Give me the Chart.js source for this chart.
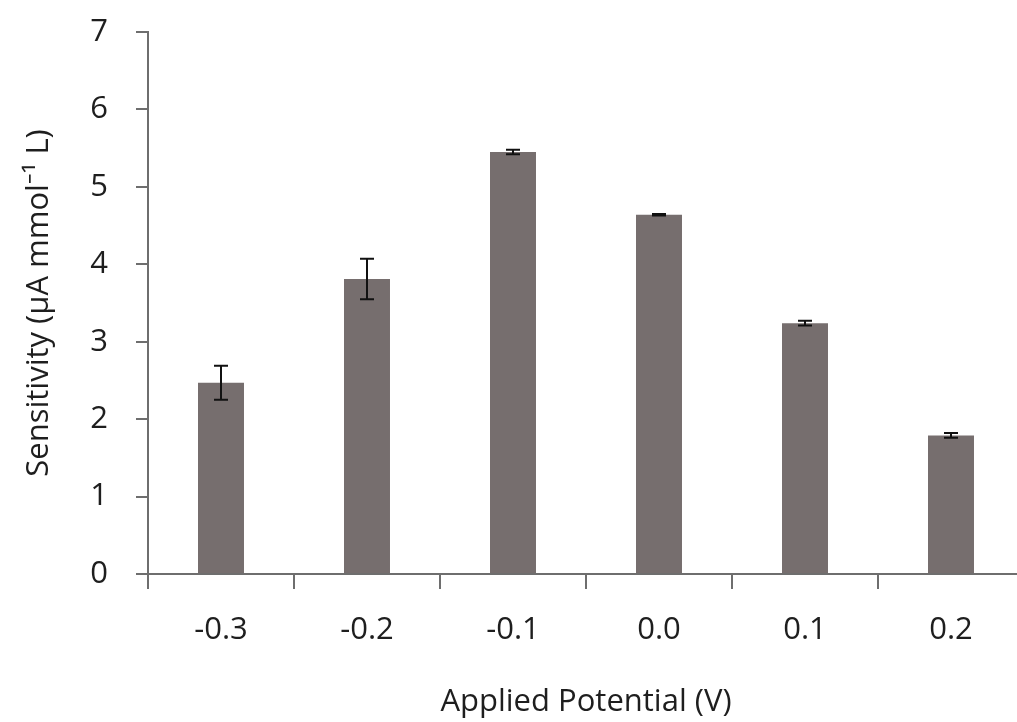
<!DOCTYPE html>
<html>
<head>
<meta charset="utf-8">
<script src="https://cdn.jsdelivr.net/npm/chart.js@4/dist/chart.umd.min.js"></script>
<style>
    html, body { margin: 0; padding: 0; background: #fff; overflow: hidden; }
    #wrap { width: 1040px; height: 722px; }
</style>
</head>
<body>
<div id="wrap"><canvas id="barChart"></canvas></div>
<script>
// Data
const potentials = ['-0.3', '-0.2', '-0.1', '0.0', '0.1', '0.2'];
const sensitivity = [2.47, 3.81, 5.45, 4.64, 3.24, 1.79];
const sensitivityErr = [0.22, 0.26, 0.03, 0.01, 0.03, 0.03];
const yTicks = [0, 1, 2, 3, 4, 5, 6, 7];

const fontFamily = '"Open Sans", "Noto Sans", sans-serif';
const axisColor = '#6e6e6e';
const textColor = '#1e1e1e';

// draws the error bars from the bar elements and y scale
const errorBars = {
    id: 'errorBars',
    afterDatasetsDraw(chart) {
        const ctx = chart.ctx;
        const yScale = chart.scales.y;
        const meta = chart.getDatasetMeta(0);
        ctx.save();
        ctx.strokeStyle = '#111';
        ctx.lineWidth = 2;
        meta.data.forEach((bar, i) => {
            const v = sensitivity[i];
            const e = sensitivityErr[i];
            const yTop = yScale.getPixelForValue(v + e);
            const yBot = yScale.getPixelForValue(v - e);
            const cap = 7;
            ctx.beginPath();
            ctx.moveTo(bar.x, yTop);
            ctx.lineTo(bar.x, yBot);
            ctx.moveTo(bar.x - cap, yTop);
            ctx.lineTo(bar.x + cap, yTop);
            ctx.moveTo(bar.x - cap, yBot);
            ctx.lineTo(bar.x + cap, yBot);
            ctx.stroke();
        });
        ctx.restore();
    }
};

new Chart(document.getElementById('barChart'), {
    type: 'bar',
    data: {
        labels: potentials,
        datasets: [{
            label: 'Sensitivity',
            data: sensitivity,
            backgroundColor: '#766e6e',
            borderWidth: 0,
            barPercentage: 0.63,
            categoryPercentage: 0.5
        }]
    },
    options: {
        responsive: true,
        maintainAspectRatio: false,
        animation: false,
        layout: { padding: { top: 32, right: 16, bottom: 0, left: 0 } },
        plugins: {
            legend: { display: false },
            tooltip: { enabled: false }
        },
        scales: {
            x: {
                grid: {
                    offset: true,
                    drawOnChartArea: false,
                    tickLength: 15,
                    tickColor: axisColor,
                    lineWidth: 2
                },
                border: { color: axisColor, width: 2 },
                ticks: {
                    color: textColor,
                    padding: 23,
                    maxRotation: 0,
                    font: { family: fontFamily, size: 31, weight: 500 }
                },
                title: {
                    display: true,
                    text: 'Applied Potential (V)',
                    color: textColor,
                    padding: { top: 0, bottom: 1 },
                    font: { family: fontFamily, size: 31, weight: 500 }
                },
                afterFit(scale) {
                    scale.height = 148;
                    scale.paddingLeft = 0;
                    scale.paddingRight = 0;
                }
            },
            y: {
                min: 0,
                max: 7,
                afterBuildTicks(scale) {
                    scale.ticks = yTicks.map(v => ({ value: v }));
                },
                grid: {
                    drawOnChartArea: false,
                    tickLength: 12,
                    tickColor: axisColor,
                    lineWidth: 2
                },
                border: { color: axisColor, width: 2 },
                ticks: {
                    color: textColor,
                    padding: 28,
                    font: { family: fontFamily, size: 31, weight: 500 }
                },
                title: {
                    display: true,
                    text: 'Sensitivity (μA mmol⁻¹ L)',
                    color: textColor,
                    padding: { top: 21, bottom: 0 },
                    font: { family: fontFamily, size: 31, weight: 500 }
                },
                afterFit(scale) {
                    scale.width = 148;
                    scale.paddingTop = 0;
                    scale.paddingBottom = 0;
                }
            }
        }
    },
    plugins: [errorBars]
});
</script>
</body>
</html>
